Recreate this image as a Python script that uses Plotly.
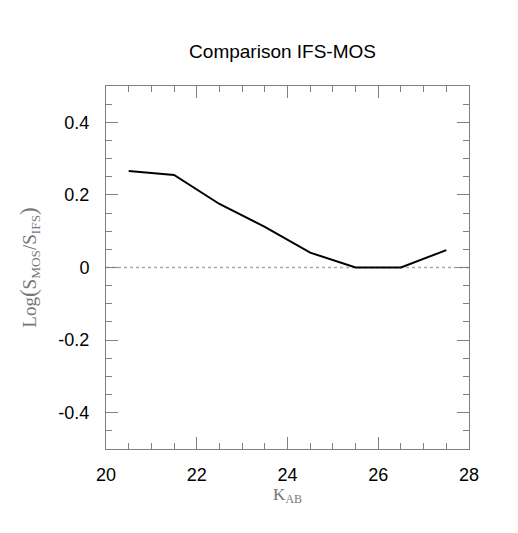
import plotly.graph_objects as go

# K_AB magnitude bins and log flux ratio
k_ab = [20.5, 21.5, 22.5, 23.5, 24.5, 25.5, 26.5, 27.5]
log_ratio = [0.266, 0.255, 0.175, 0.112, 0.041, 0.0, 0.0, 0.048]

y_ticks = [-0.4, -0.2, 0, 0.2, 0.4]
y_tick_text = ["-0.4", "-0.2", "0", "0.2", "0.4"]

axis_color = "#808080"
serif = "Liberation Serif, Times New Roman"
sans = "Liberation Sans, Arial"

fig = go.Figure()

# zero reference line
fig.add_trace(go.Scatter(
    x=[20, 28], y=[0, 0],
    mode="lines",
    line=dict(color="#aaaaaa", width=1.5, dash="dot"),
    showlegend=False, hoverinfo="skip"
))

fig.add_trace(go.Scatter(
    x=k_ab, y=log_ratio,
    mode="lines",
    line=dict(color="black", width=2),
    showlegend=False
))

common = dict(
    showline=True, linecolor=axis_color, linewidth=1,
    mirror="ticks", ticks="inside", tickcolor=axis_color,
    ticklen=12, tickwidth=1,
    showgrid=False, zeroline=False,
    tickfont=dict(family=sans, size=18, color="black"),
)

fig.update_xaxes(
    range=[20, 28], dtick=2, tick0=20,
    ticklabelstandoff=9,
    minor=dict(dtick=0.5, ticks="inside", ticklen=6, tickcolor=axis_color, showgrid=False),
    title=dict(text="K<sub>AB</sub>", font=dict(family=serif, size=17, color="#777777"), standoff=2),
    **common
)
fig.update_yaxes(
    range=[-0.5, 0.5],
    tickvals=y_ticks, ticktext=y_tick_text,
    ticklabelstandoff=12,
    minor=dict(dtick=0.05, ticks="inside", ticklen=6, tickcolor=axis_color, showgrid=False),
    title=dict(
        text='Log<span style="font-size:23px">(</span>S<sub>MOS</sub>/S<sub>IFS</sub><span style="font-size:23px">)</span>',
        font=dict(family=serif, size=19, color="#777777"), standoff=16),
    **common
)

fig.update_layout(
    width=518, height=533,
    margin=dict(l=98, r=57, t=78, b=92),
    paper_bgcolor="white", plot_bgcolor="white",
    title=dict(text="Comparison IFS-MOS", x=0.53, xanchor="center", y=0.919, yanchor="middle",
               font=dict(family=sans, size=19, color="black")),
)

fig.write_html("out.html")
